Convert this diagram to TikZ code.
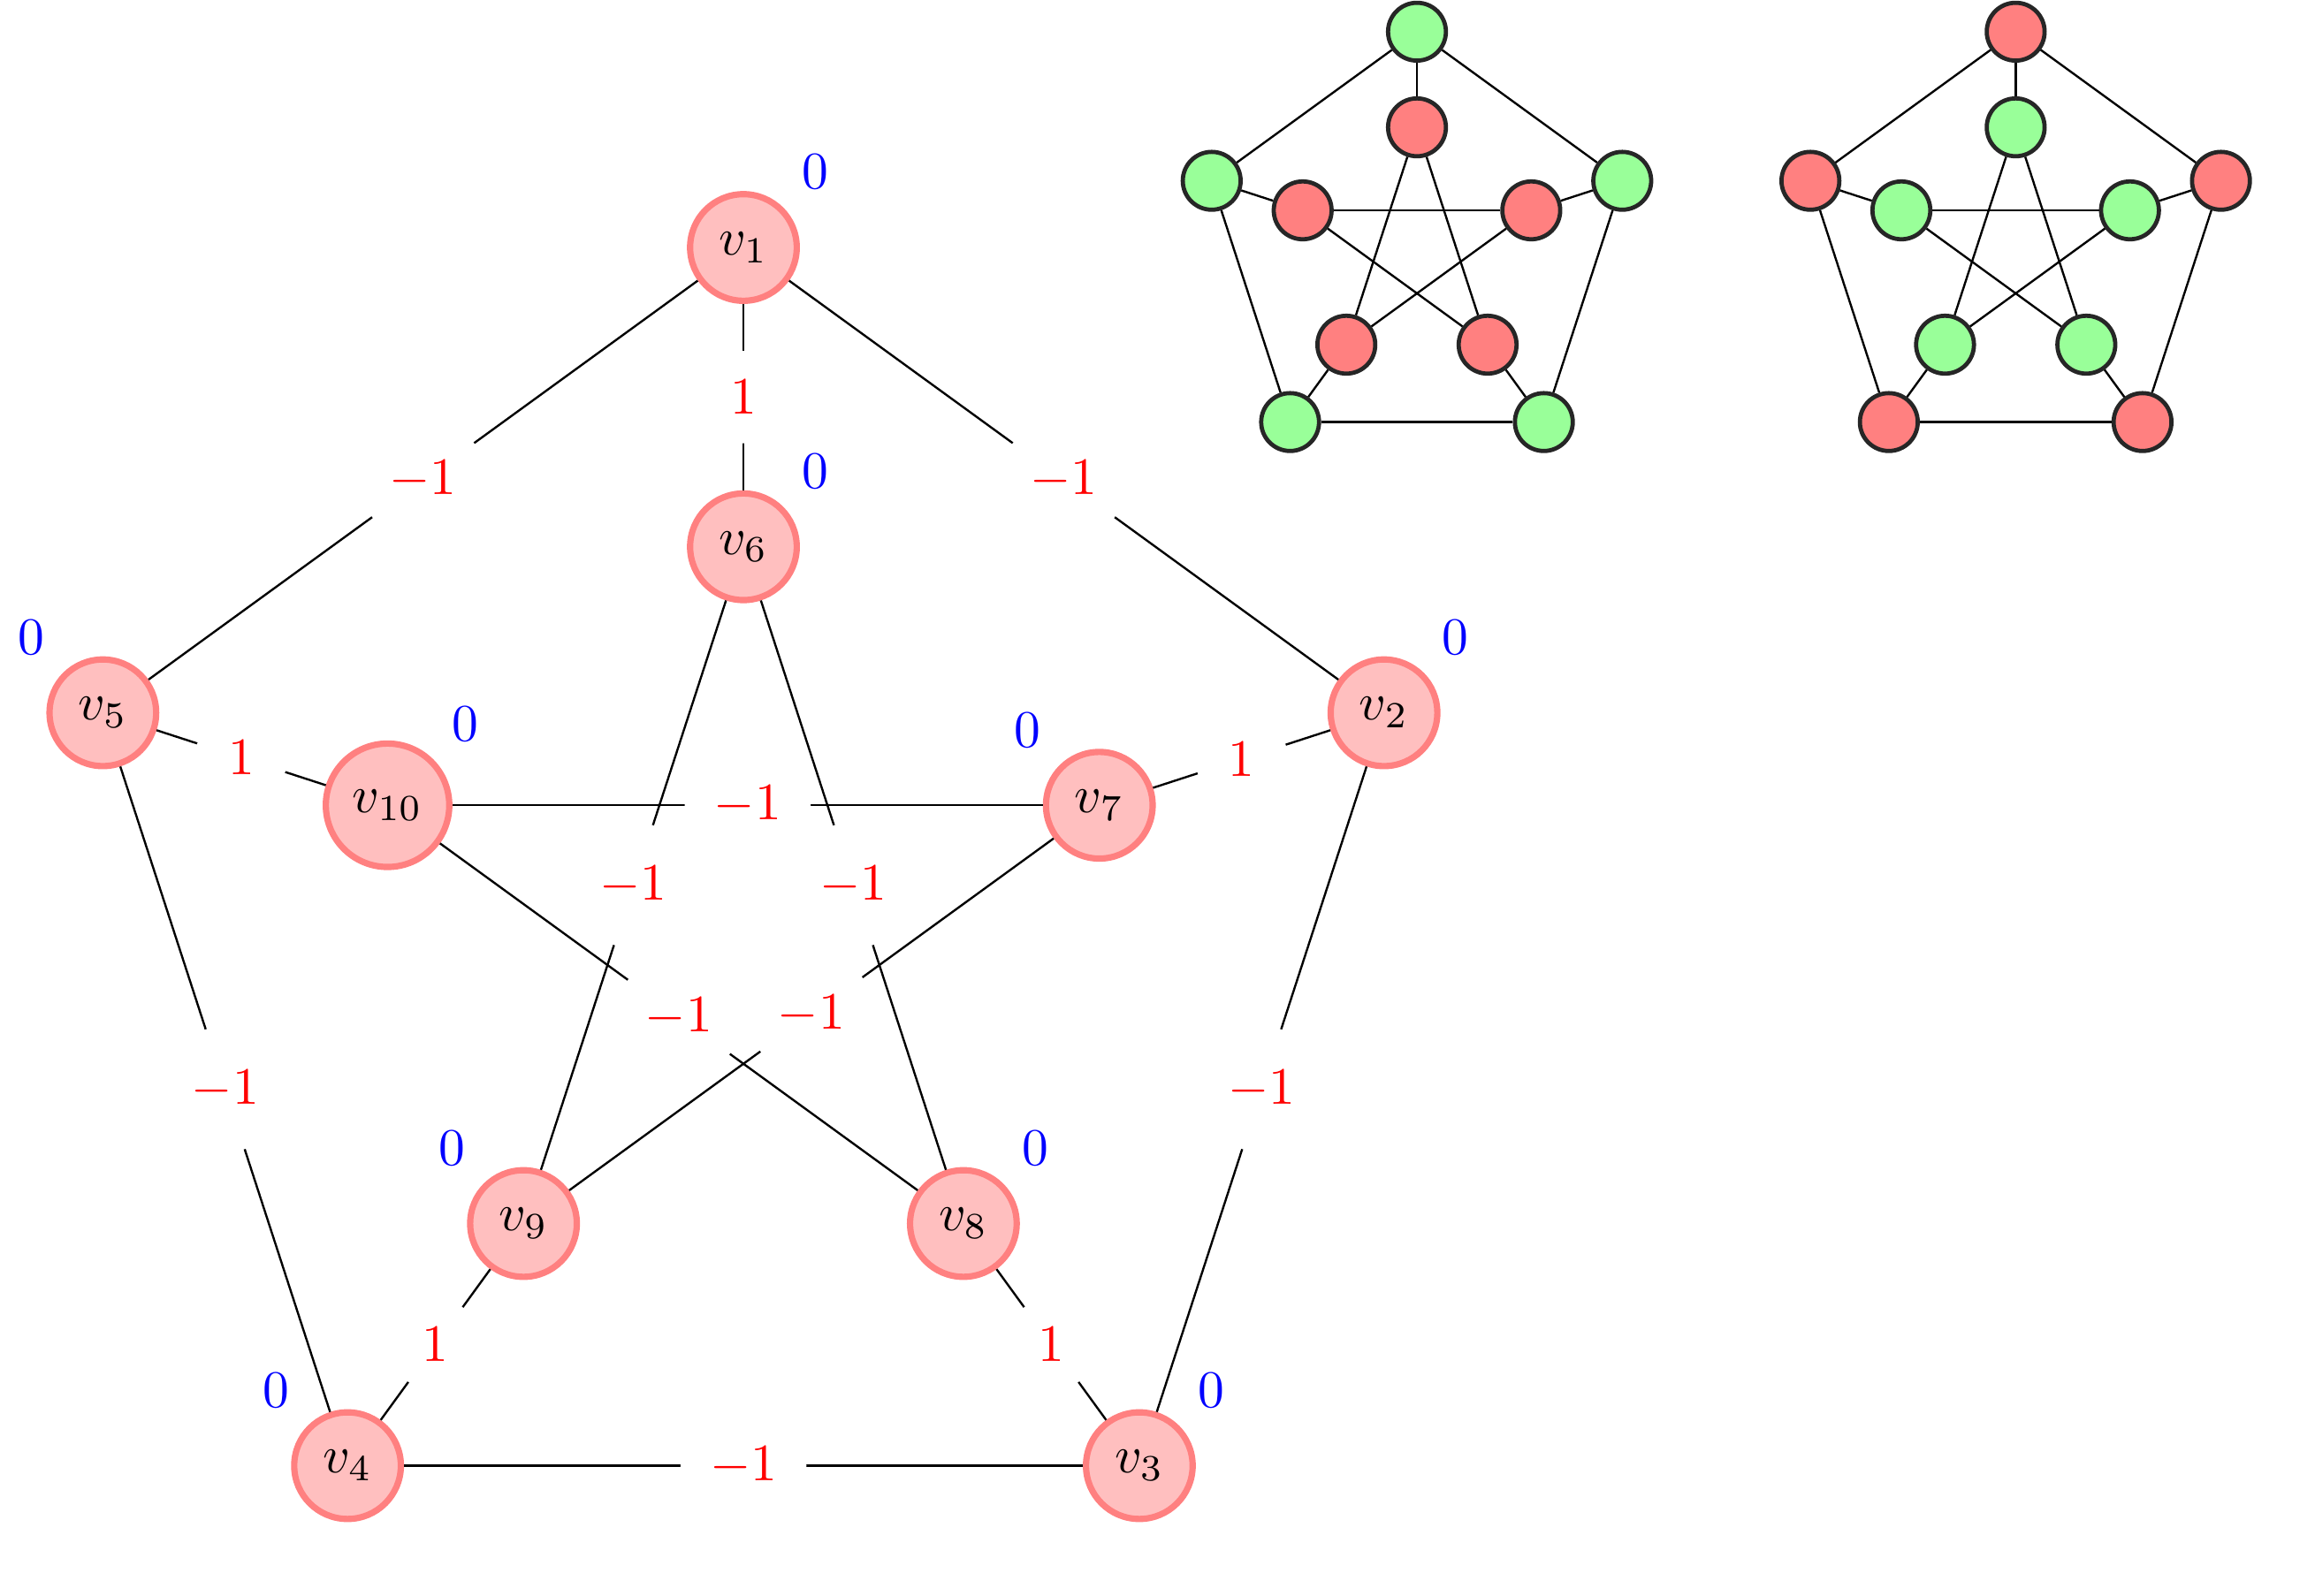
\documentclass[tikz,border=0pt]{standalone}
\begin{document}
\begin{tikzpicture}[
  vtx/.style={circle,draw=red!50,fill=red!25,very thick},
  elab/.style={circle,fill=white,text=red},
  wl/.style={label={[blue]#1:$0$}},
  sv/.style={circle,draw=black!85,line width=0.8pt,minimum size=11pt,inner sep=0pt},
  sgreen/.style={sv,fill=green!40},
  sred/.style={sv,fill=red!50},
]
\useasboundingbox (-4.967,-4.506) rectangle (10.500,6.154);
% main graph
\node[vtx,wl=45]  (v1)  at (90:4.5)   {$v_1$};
\node[vtx,wl=45]  (v2)  at (18:4.5)   {$v_2$};
\node[vtx,wl=45]  (v3)  at (-54:4.5)  {$v_3$};
\node[vtx,wl=135] (v4)  at (-126:4.5) {$v_4$};
\node[vtx,wl=135] (v5)  at (162:4.5)  {$v_5$};
\node[vtx,wl=45]  (v6)  at (90:2.5)   {$v_6$};
\node[vtx,wl=135] (v7)  at (18:2.5)   {$v_7$};
\node[vtx,wl=45]  (v8)  at (-54:2.5)  {$v_8$};
\node[vtx,wl=135] (v9)  at (-126:2.5) {$v_9$};
\node[vtx,wl=45]  (v10) at (162:2.5)  {$v_{10}$};
\draw (v1) -- node[elab]{$-1$} (v2);
\draw (v2) -- node[elab]{$-1$} (v3);
\draw (v3) -- node[elab]{$-1$} (v4);
\draw (v4) -- node[elab]{$-1$} (v5);
\draw (v5) -- node[elab]{$-1$} (v1);
\draw (v1) -- node[elab]{$1$} (v6);
\draw (v2) -- node[elab]{$1$} (v7);
\draw (v3) -- node[elab]{$1$} (v8);
\draw (v4) -- node[elab]{$1$} (v9);
\draw (v5) -- node[elab]{$1$} (v10);
\draw (v6) -- node[elab]{$-1$} (v8);
\draw (v6) -- node[elab]{$-1$} (v9);
\draw (v7) -- node[elab]{$-1$} (v9);
\draw (v7) -- node[elab]{$-1$} (v10);
\draw (v8) -- node[elab]{$-1$} (v10);
% small graphs
\foreach \p/\cx/\os/\is in {a/4.5/sgreen/sred, b/8.5/sred/sgreen} {
  \begin{scope}[shift={(\cx,4.5)}]
    \foreach \k/\ang in {1/90,2/18,3/-54,4/-126,5/162} {
      \node[\os] (\p\k) at (\ang:1.442) {};
    }
    \foreach \k/\ang in {6/90,7/18,8/-54,9/-126,10/162} {
      \node[\is] (\p\k) at (\ang:0.803) {};
    }
    \foreach \i/\j in {1/2,2/3,3/4,4/5,5/1,1/6,2/7,3/8,4/9,5/10,6/8,6/9,7/9,7/10,8/10} {
      \draw (\p\i) -- (\p\j);
    }
  \end{scope}
}
\end{tikzpicture}
\end{document}
